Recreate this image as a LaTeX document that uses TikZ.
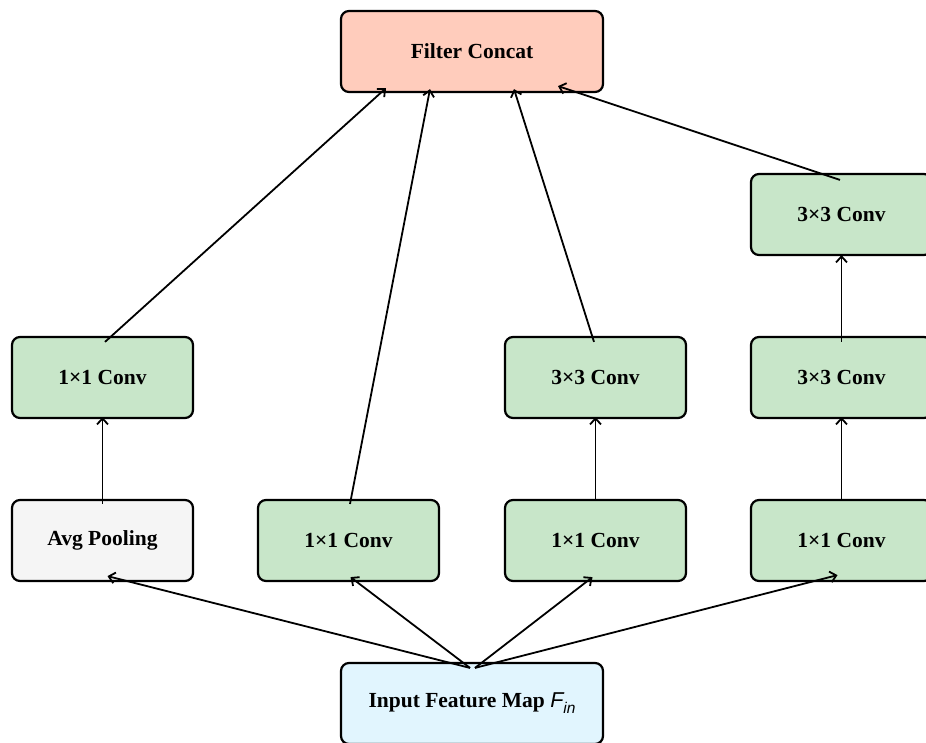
\documentclass[tikz,border=0pt]{standalone}
\usepackage{fontspec}
\setmainfont{Liberation Serif}
\setsansfont{Liberation Sans}
\usetikzlibrary{arrows.meta}
\definecolor{peach}{HTML}{FFCCBC}
\definecolor{mint}{HTML}{C8E6C9}
\definecolor{lightgray}{HTML}{F5F5F5}
\definecolor{skyblue}{HTML}{E1F5FE}
\tikzset{
  box/.style={draw=black, line width=2.2pt, rounded corners=8pt, minimum width=181pt, minimum height=81pt, inner sep=0pt, font=\fontsize{21.5}{26}\selectfont\bfseries},
  wide/.style={box, minimum width=262pt},
  conv/.style={box, fill=mint},
  arr/.style={line width=1.8pt, -{Straight Barb[length=6pt,width=11pt,line width=1.8pt]}},
}
\begin{document}
\begin{tikzpicture}[x=1pt,y=-1pt]
\useasboundingbox (0,0) rectangle (926,742);
\fill[white] (0,0) rectangle (926,742);
% nodes
\node[wide, fill=peach] (concat) at (472,51.5) {Filter Concat};
\node[conv] (c4b) at (841.5,214.5) {3×3 Conv};
\node[conv] (c1a) at (102.5,377.5) {1×1 Conv};
\node[conv] (c3a) at (595.5,377.5) {3×3 Conv};
\node[conv] (c4a) at (841.5,377.5) {3×3 Conv};
\node[box, fill=lightgray] (pool) at (102.5,540.5) {Avg Pooling};
\node[conv] (c2) at (348.5,540.5) {1×1 Conv};
\node[conv] (c3) at (595.5,540.5) {1×1 Conv};
\node[conv] (c4) at (841.5,540.5) {1×1 Conv};
\node[wide, fill=skyblue] (input) at (472,703.5) {Input Feature Map {\sffamily\mdseries\itshape F\raisebox{-0.28em}{\fontsize{15.5}{16}\selectfont in}}};
% input to first row
\draw[arr] ([shift={(-2,6)}]input.north) -- ([shift={(5,-6)}]pool.south);
\draw[arr] ([shift={(-2,6)}]input.north) -- ([shift={(2,-5)}]c2.south);
\draw[arr] ([shift={(3,6)}]input.north) -- ([shift={(-3,-5)}]c3.south);
\draw[arr] ([shift={(3,6)}]input.north) -- ([shift={(-4,-7)}]c4.south);
% vertical arrows
\draw[arr] ([shift={(0,5)}]pool.north) -- ([shift={(0,-2)}]c1a.south);
\draw[arr] ([shift={(0,2)}]c3.north) -- ([shift={(0,-2)}]c3a.south);
\draw[arr] ([shift={(0,2)}]c4.north) -- ([shift={(0,-2)}]c4a.south);
\draw[arr] ([shift={(0,6)}]c4a.north) -- ([shift={(0,-1)}]c4b.south);
% to concat
\draw[arr] ([shift={(2.5,6)}]c1a.north) -- ([shift={(-86,-5)}]concat.south);
\draw[arr] ([shift={(1.5,5)}]c2.north) -- ([shift={(-42,-4)}]concat.south);
\draw[arr] ([shift={(-1.5,6)}]c3a.north) -- ([shift={(42,-4)}]concat.south);
\draw[arr] ([shift={(-1.5,7)}]c4b.north) -- ([shift={(86,-7)}]concat.south);
\end{tikzpicture}
\end{document}
